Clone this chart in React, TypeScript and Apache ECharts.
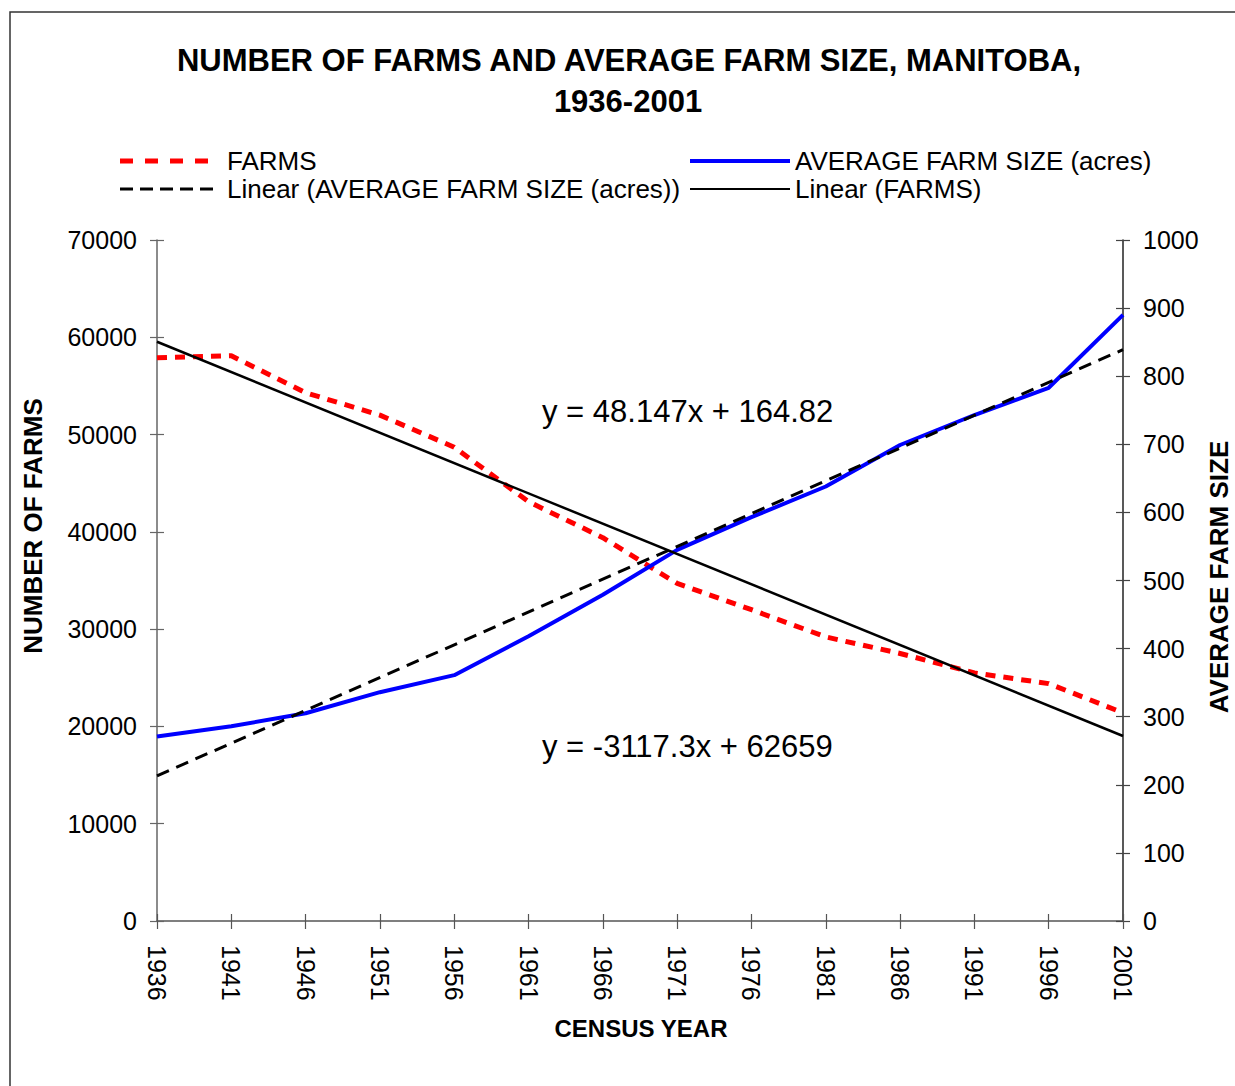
import React, { useEffect, useRef } from "react";
import * as echarts from "echarts";

const years = ["1936", "1941", "1946", "1951", "1956", "1961", "1966", "1971", "1976", "1981", "1986", "1991", "1996", "2001"];
const farms = [57900, 58100, 54300, 52000, 48700, 43100, 39400, 34700, 32000, 29200, 27500, 25500, 24400, 21400];
const avgSize = [271, 286, 305, 336, 361, 418, 479, 545, 593, 638, 699, 743, 783, 890];
// trend line end points (first and last census), as given by the fitted equations
const farmsTrendEnds = [59542, 19017];
const sizeTrendEnds = [213, 839];
const farmsTicks = { min: 0, max: 70000, interval: 10000 };
const sizeTicks = { min: 0, max: 1000, interval: 100 };

const FONT = "'Liberation Sans', Arial, sans-serif";

export default function App() {
  const ref = useRef<HTMLDivElement>(null);
  useEffect(() => {
    if (!ref.current) return;
    const chart = echarts.init(ref.current, null, { renderer: "svg" });
    const last = years.length - 1;
    const plain = (v: number) => String(v);
    const axisLabelStyle = { fontSize: 25, color: "#000", fontFamily: FONT };
    const option: any = {
      animation: false,
      backgroundColor: "#fff",
      grid: { left: 157, right: 112, top: 240, bottom: 165, containLabel: false },
      xAxis: [
        {
          type: "category",
          data: years,
          boundaryGap: false,
          axisLine: { show: true, lineStyle: { color: "#555", width: 1.5 } },
          axisTick: { show: true, length: 8, lineStyle: { color: "#555", width: 1.2 } },
          axisLabel: { ...axisLabelStyle, rotate: -90, margin: 24, interval: 0 },
          splitLine: { show: false },
        },
        {
          type: "category",
          data: years,
          boundaryGap: false,
          position: "bottom",
          axisLine: { show: false },
          axisTick: { show: true, inside: true, length: 7, lineStyle: { color: "#555", width: 1.2 } },
          axisLabel: { show: false },
          splitLine: { show: false },
        },
      ],
      yAxis: [
        {
          type: "value",
          ...farmsTicks,
          position: "left",
          axisLine: { show: true, lineStyle: { color: "#666", width: 1.5 } },
          axisTick: { show: true, length: 7, lineStyle: { color: "#666", width: 1.2 } },
          axisLabel: { ...axisLabelStyle, margin: 20, formatter: plain },
          splitLine: { show: false },
        },
        {
          type: "value",
          ...sizeTicks,
          position: "right",
          axisLine: { show: true, lineStyle: { color: "#222", width: 1.5 } },
          axisTick: { show: true, length: 7, lineStyle: { color: "#444", width: 1.2 } },
          axisLabel: { ...axisLabelStyle, margin: 20, formatter: plain },
          splitLine: { show: false },
        },
        {
          type: "value",
          ...farmsTicks,
          position: "left",
          axisLine: { show: false },
          axisTick: { show: true, inside: true, length: 7, lineStyle: { color: "#666", width: 1.2 } },
          axisLabel: { show: false },
          splitLine: { show: false },
        },
        {
          type: "value",
          ...sizeTicks,
          position: "right",
          axisLine: { show: false },
          axisTick: { show: true, inside: true, length: 7, lineStyle: { color: "#444", width: 1.2 } },
          axisLabel: { show: false },
          splitLine: { show: false },
        },
      ],
      series: [
        {
          name: "FARMS",
          type: "line",
          yAxisIndex: 0,
          data: farms,
          symbol: "none",
          lineStyle: { color: "#ff0000", width: 5, type: [10, 8] },
          z: 3,
        },
        {
          name: "AVERAGE FARM SIZE (acres)",
          type: "line",
          yAxisIndex: 1,
          data: avgSize,
          symbol: "none",
          lineStyle: { color: "#0000ff", width: 4 },
          z: 3,
        },
        {
          name: "Linear (AVERAGE FARM SIZE (acres))",
          type: "line",
          yAxisIndex: 1,
          data: [[0, sizeTrendEnds[0]], [last, sizeTrendEnds[1]]],
          symbol: "none",
          lineStyle: { color: "#000", width: 3, type: [13, 8] },
          z: 4,
        },
        {
          name: "Linear (FARMS)",
          type: "line",
          yAxisIndex: 0,
          data: [[0, farmsTrendEnds[0]], [last, farmsTrendEnds[1]]],
          symbol: "none",
          lineStyle: { color: "#000", width: 2.5 },
          z: 4,
        },
      ],
      graphic: [
        {
          type: "rect",
          shape: { x: 10, y: 12, width: 1240, height: 1100 },
          style: { fill: "none", stroke: "#333", lineWidth: 1.5 },
          silent: true,
          z: -10,
        },
        {
          type: "text",
          x: 629,
          y: 60,
          style: {
            text: "NUMBER OF FARMS AND AVERAGE FARM SIZE, MANITOBA,",
            font: `bold 31px ${FONT}`,
            fill: "#000",
            textAlign: "center",
            textVerticalAlign: "middle",
          },
        },
        {
          type: "text",
          x: 628,
          y: 101,
          style: {
            text: "1936-2001",
            font: `bold 31px ${FONT}`,
            fill: "#000",
            textAlign: "center",
            textVerticalAlign: "middle",
          },
        },
        // legend
        { type: "line", shape: { x1: 120, y1: 161, x2: 218, y2: 161 }, style: { stroke: "#ff0000", lineWidth: 5, lineDash: [13, 12] } },
        { type: "text", x: 227, y: 161, style: { text: "FARMS", font: `26px ${FONT}`, fill: "#000", textVerticalAlign: "middle" } },
        { type: "line", shape: { x1: 690, y1: 161, x2: 790, y2: 161 }, style: { stroke: "#0000ff", lineWidth: 4 } },
        { type: "text", x: 795, y: 161, style: { text: "AVERAGE FARM SIZE (acres)", font: `26px ${FONT}`, fill: "#000", textVerticalAlign: "middle" } },
        { type: "line", shape: { x1: 120, y1: 189, x2: 218, y2: 189 }, style: { stroke: "#000", lineWidth: 3, lineDash: [13, 7] } },
        { type: "text", x: 227, y: 189, style: { text: "Linear (AVERAGE FARM SIZE (acres))", font: `26px ${FONT}`, fill: "#000", textVerticalAlign: "middle" } },
        { type: "line", shape: { x1: 690, y1: 189, x2: 790, y2: 189 }, style: { stroke: "#000", lineWidth: 2 } },
        { type: "text", x: 795, y: 189, style: { text: "Linear (FARMS)", font: `26px ${FONT}`, fill: "#000", textVerticalAlign: "middle" } },
        // equations
        { type: "text", x: 542, y: 411, style: { text: "y = 48.147x + 164.82", font: `31px ${FONT}`, fill: "#000", textVerticalAlign: "middle" }, z: 10 },
        { type: "text", x: 542, y: 746, style: { text: "y = -3117.3x + 62659", font: `31px ${FONT}`, fill: "#000", textVerticalAlign: "middle" }, z: 10 },
        // axis titles
        {
          type: "text",
          x: 33,
          y: 526,
          rotation: Math.PI / 2,
          style: { text: "NUMBER OF FARMS", font: `bold 26px ${FONT}`, fill: "#000", textAlign: "center", textVerticalAlign: "middle" },
        },
        {
          type: "text",
          x: 1219,
          y: 577,
          rotation: Math.PI / 2,
          style: { text: "AVERAGE FARM SIZE", font: `bold 26px ${FONT}`, fill: "#000", textAlign: "center", textVerticalAlign: "middle" },
        },
        {
          type: "text",
          x: 641,
          y: 1028,
          style: { text: "CENSUS YEAR", font: `bold 24px ${FONT}`, fill: "#000", textAlign: "center", textVerticalAlign: "middle" },
        },
      ],
    };
    chart.setOption(option);
    return () => chart.dispose();
  }, []);
  return (
    <div
      ref={ref}
      style={{ position: "fixed", left: 0, top: 0, width: 1235, height: 1086 }}
    />
  );
}
